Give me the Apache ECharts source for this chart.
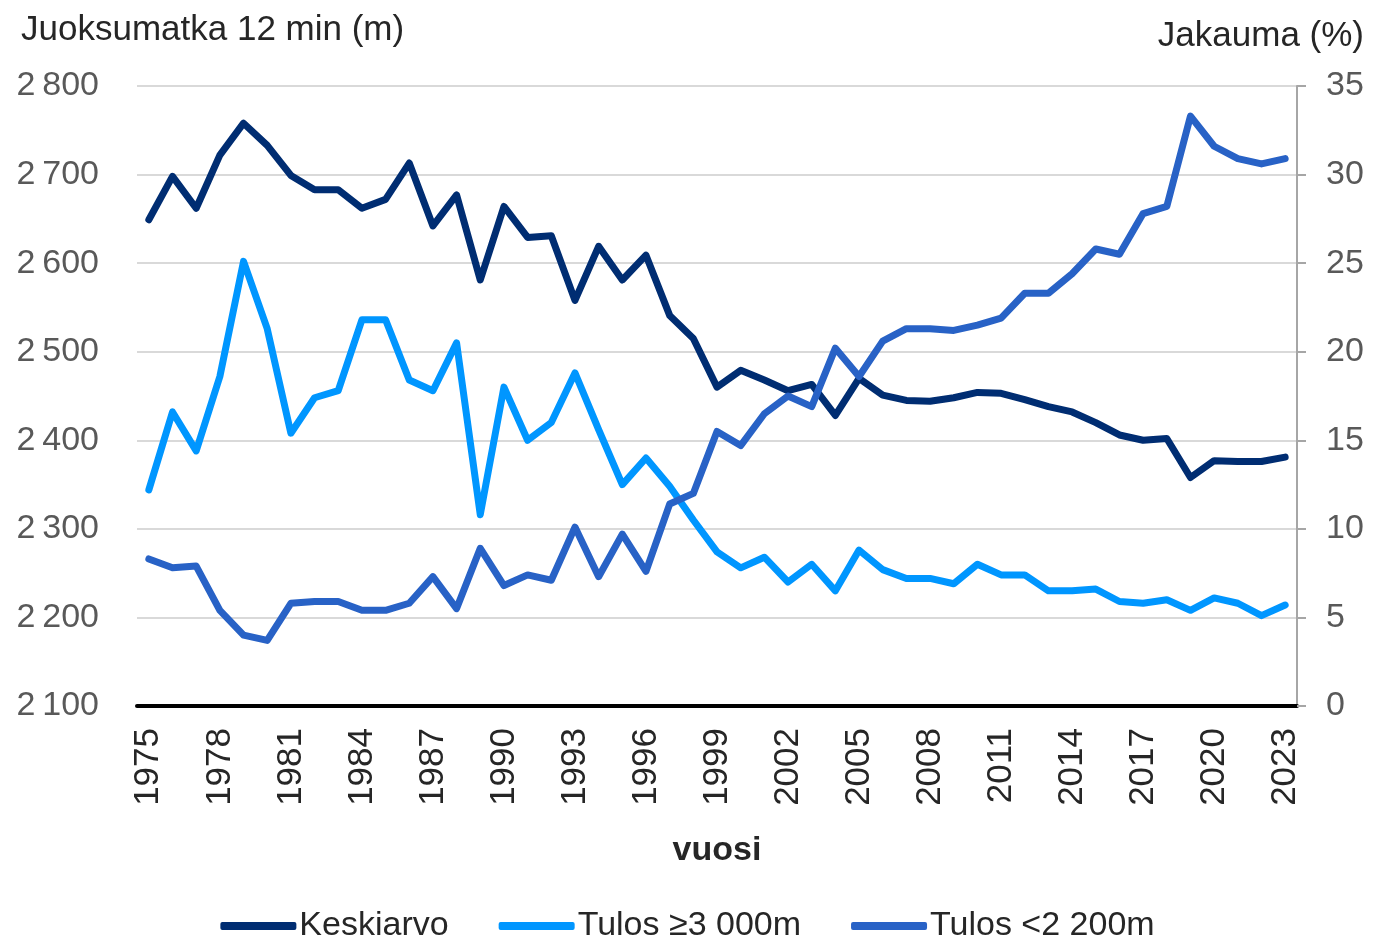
<!DOCTYPE html>
<html>
<head>
<meta charset="utf-8">
<script src="https://cdn.jsdelivr.net/npm/echarts@6/dist/echarts.min.js"></script>
<style>
  html, body { margin: 0; padding: 0; background: #fff; }
  #chart { width: 1375px; height: 941px; }
</style>
</head>
<body>
<div id="chart"></div>
<script>
const years = [];
for (let y = 1975; y <= 2023; y++) years.push(String(y));

// Keskiarvo, metres (left axis)
const keskiarvo = [
  2649, 2698, 2662, 2722, 2758, 2733, 2699, 2683, 2683, 2662,
  2672, 2713, 2642, 2677, 2581, 2664, 2629, 2631, 2558, 2619,
  2581, 2609, 2541, 2515, 2460, 2479, 2468, 2456, 2463, 2428,
  2470, 2451, 2445, 2444, 2448, 2454, 2453, 2446, 2438, 2432,
  2420, 2406, 2400, 2402, 2358, 2377, 2376, 2376, 2381
];

// Tulos >= 3 000 m, share % (right axis)
const yli3000 = [
  12.2, 16.6, 14.4, 18.6, 25.1, 21.3, 15.4, 17.4, 17.8, 21.8,
  21.8, 18.4, 17.8, 20.5, 10.8, 18.0, 15.0, 16.0, 18.8, 15.6,
  12.5, 14.0, 12.4, 10.5, 8.7, 7.8, 8.4, 7.0, 8.0, 6.5,
  8.8, 7.7, 7.2, 7.2, 6.9, 8.0, 7.4, 7.4, 6.5, 6.5,
  6.6, 5.9, 5.8, 6.0, 5.4, 6.1, 5.8, 5.1, 5.7
];

// Tulos < 2 200 m, share % (right axis)
const alle2200 = [
  8.3, 7.8, 7.9, 5.4, 4.0, 3.7, 5.8, 5.9, 5.9, 5.4,
  5.4, 5.8, 7.3, 5.5, 8.9, 6.8, 7.4, 7.1, 10.1, 7.3,
  9.7, 7.6, 11.4, 12.0, 15.5, 14.7, 16.5, 17.5, 16.9, 20.2,
  18.6, 20.6, 21.3, 21.3, 21.2, 21.5, 21.9, 23.3, 23.3, 24.4,
  25.8, 25.5, 27.8, 28.2, 33.3, 31.6, 30.9, 30.6, 30.9
];

const seriesNames = ['Keskiarvo', 'Tulos \u22653\u00a0000m', 'Tulos <2\u00a0200m'];
const colors = ['#002D72', '#0096FF', '#2862C6'];

const font = '"Liberation Sans", Arial, sans-serif';
const labelGrey = '#595959';

const chart = echarts.init(document.getElementById('chart'));

chart.setOption({
  backgroundColor: '#fff',
  animation: false,
  color: colors,
  title: [
    {
      text: 'Juoksumatka 12 min (m)',
      left: 16, top: 8,
      textStyle: { color: '#262626', fontFamily: font, fontSize: 35, fontWeight: 'normal' }
    },
    {
      text: 'Jakauma (%)',
      right: 6, top: 14,
      textStyle: { color: '#262626', fontFamily: font, fontSize: 35, fontWeight: 'normal' }
    }
  ],
  legend: {
    top: 904,
    left: 'center',
    data: seriesNames,
    icon: 'roundRect',
    itemWidth: 76,
    itemHeight: 8,
    itemGap: 50,
    textStyle: { color: '#262626', fontFamily: font, fontSize: 34, padding: [0, 0, 0, -2] }
  },
  grid: { left: 137, right: 78, top: 86, bottom: 235 },
  xAxis: {
    type: 'category',
    data: years,
    boundaryGap: true,
    name: 'vuosi',
    nameLocation: 'middle',
    nameGap: 128,
    nameTextStyle: { color: '#262626', fontFamily: font, fontSize: 34, fontWeight: 'bold' },
    axisLine: { show: true, lineStyle: { color: '#000', width: 4 } },
    axisTick: { show: false },
    axisLabel: {
      interval: 2,
      rotate: 90,
      color: '#262626',
      fontFamily: font,
      fontSize: 35,
      margin: 22
    }
  },
  yAxis: [
    {
      type: 'value',
      min: 2100, max: 2800, interval: 100,
      axisLine: { show: false },
      axisTick: { show: false },
      splitLine: { lineStyle: { color: '#d9d9d9', width: 2 } },
      axisLabel: {
        color: labelGrey,
        fontFamily: font,
        fontSize: 34,
        margin: 38,
        formatter: v => String(v).replace(/\B(?=(\d{3})+(?!\d))/g, '\u2009')
      }
    },
    {
      type: 'value',
      min: 0, max: 35, interval: 5,
      position: 'right',
      axisLine: { show: true, lineStyle: { color: '#a6a6a6', width: 2 } },
      axisTick: { show: true, inside: false, length: 9, lineStyle: { color: '#a6a6a6', width: 2 } },
      splitLine: { show: false },
      axisLabel: { color: labelGrey, fontFamily: font, fontSize: 34, margin: 29 }
    }
  ],
  series: [
    {
      name: seriesNames[0], type: 'line', yAxisIndex: 0, data: keskiarvo,
      symbol: 'none', lineStyle: { width: 7, join: 'round', cap: 'round' }, z: 3
    },
    {
      name: seriesNames[1], type: 'line', yAxisIndex: 1, data: yli3000,
      symbol: 'none', lineStyle: { width: 7, join: 'round', cap: 'round' }, z: 2
    },
    {
      name: seriesNames[2], type: 'line', yAxisIndex: 1, data: alle2200,
      symbol: 'none', lineStyle: { width: 7, join: 'round', cap: 'round' }, z: 4
    }
  ]
});
</script>
</body>
</html>
